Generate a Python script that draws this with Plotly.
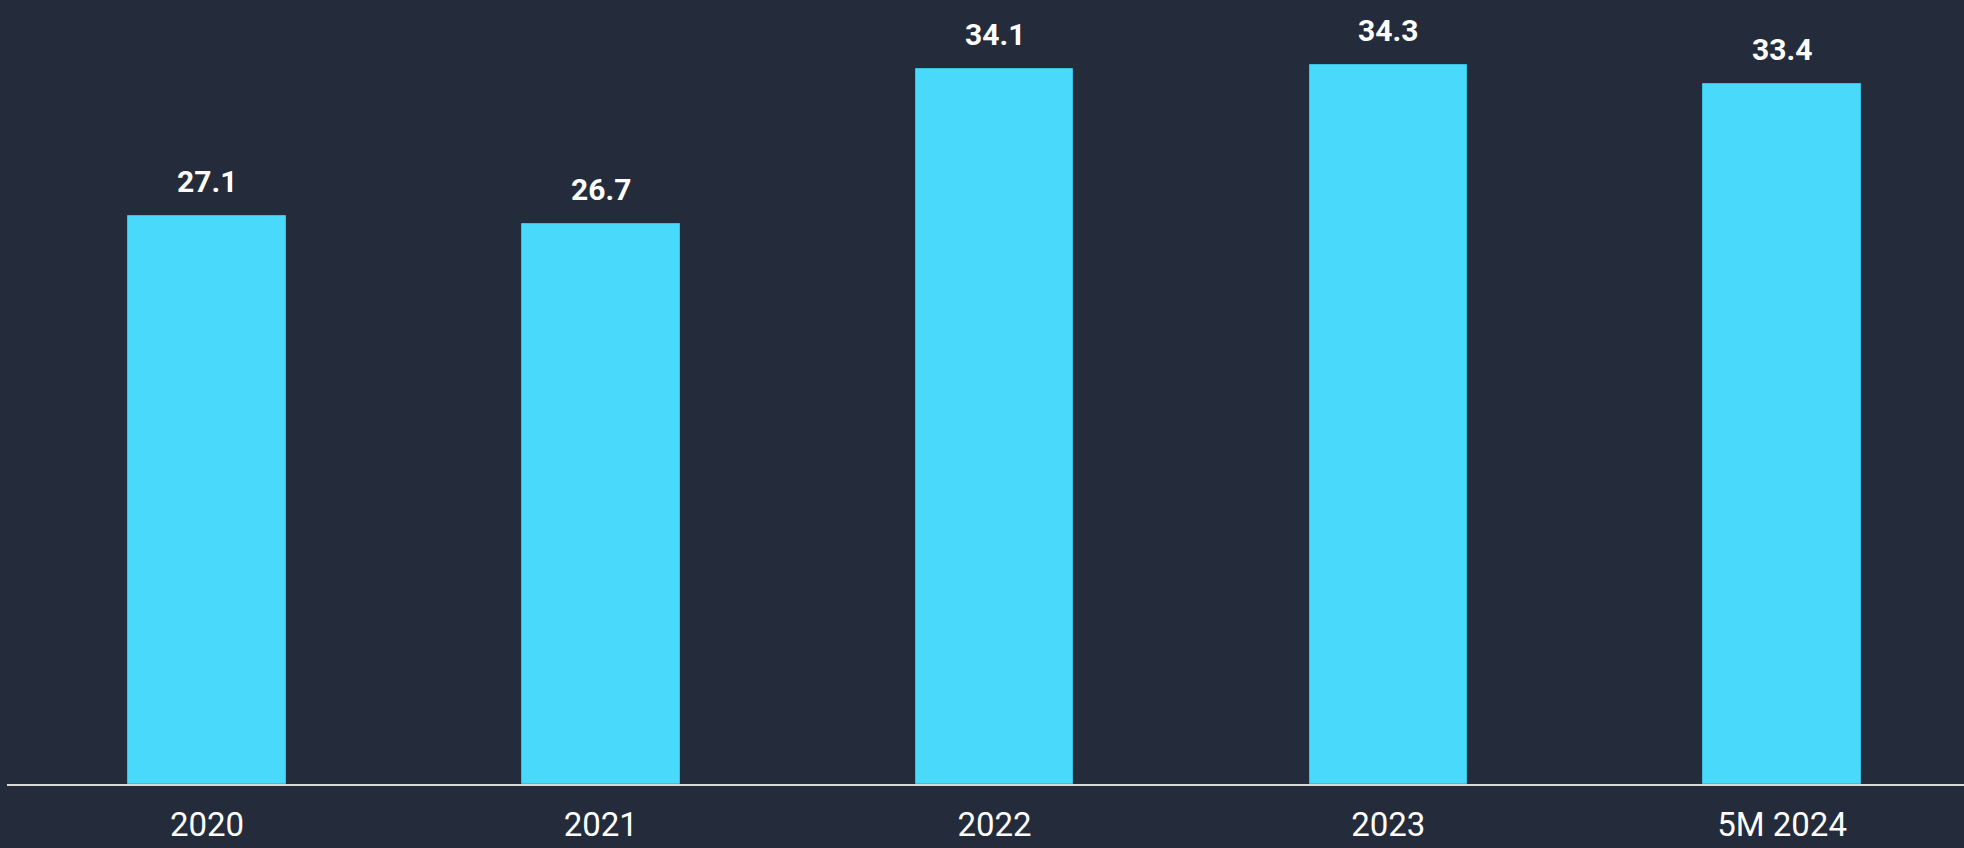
import plotly.graph_objects as go

categories = ["2020", "2021", "2022", "2023", "5M 2024"]
values = [27.1, 26.7, 34.1, 34.3, 33.4]
value_labels = ["27.1", "26.7", "34.1", "34.3", "33.4"]

BG = "#242b3b"
BAR = "#48d9fb"

fig = go.Figure()
fig.add_trace(go.Bar(
    x=categories, y=values, width=0.4,
    marker=dict(color=BAR, line=dict(color="#3cc0e0", width=1)),
    hoverinfo="skip",
))

for i, (v, t) in enumerate(zip(values, value_labels)):
    fig.add_annotation(x=i, y=v, xref="x", yref="y", text=f"<b>{t}</b>", showarrow=False,
                       yanchor="bottom", yshift=15,
                       font=dict(family="Roboto", size=30, color="#ffffff"))

fig.update_layout(
    width=1964, height=848,
    margin=dict(l=7, r=0, t=0, b=64),
    paper_bgcolor=BG, plot_bgcolor=BG,
    showlegend=False,
    bargap=0,
    xaxis=dict(
        type="category", range=[-0.508, 4.462],
        showgrid=False, zeroline=False, automargin=False,
        showline=True, linecolor="#d9d9d9", linewidth=2,
        ticks="", ticklabelstandoff=10,
        tickfont=dict(family="Roboto", size=33, color="#ffffff"),
        fixedrange=True,
    ),
    yaxis=dict(
        range=[0, 37.4], showgrid=False, zeroline=False, automargin=False,
        showticklabels=False, showline=False, ticks="",
        fixedrange=True,
    ),
)

fig.write_html("out.html", config={"displayModeBar": False})

with open("out.html", "r", encoding="utf-8") as f:
    html = f.read()
html = html.replace("<head>", "<head><style>html,body{margin:0;padding:0;background:%s;overflow:hidden;}</style>" % BG, 1)
with open("out.html", "w", encoding="utf-8") as f:
    f.write(html)
